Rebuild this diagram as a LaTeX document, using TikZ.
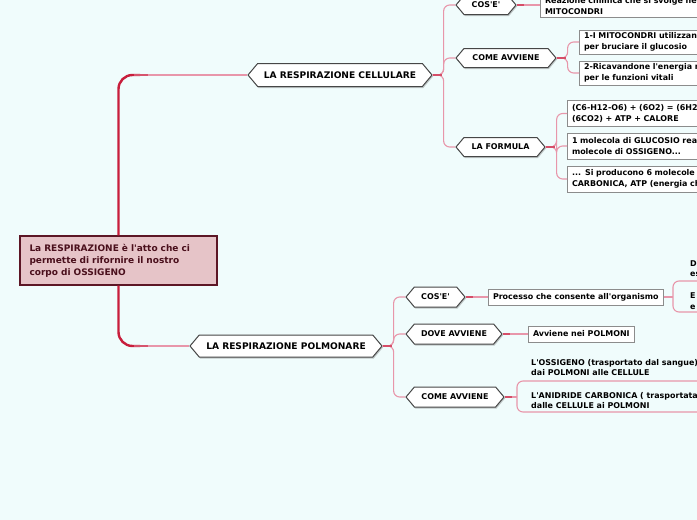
\documentclass[tikz,border=0pt]{standalone}
\usepackage{fontspec}
\setmainfont{DejaVu Sans}
\usetikzlibrary{shapes.symbols,shadows,calc}
\newcommand{\ap}{\textquotesingle}
\definecolor{bg}{RGB}{240,252,252}
\definecolor{rootfill}{RGB}{230,196,200}
\definecolor{rootdraw}{RGB}{92,22,37}
\definecolor{roottext}{RGB}{74,15,28}
\definecolor{crimson}{RGB}{200,30,60}
\definecolor{lpink}{RGB}{232,150,170}
\definecolor{hexdraw}{RGB}{70,70,70}
\definecolor{boxdraw}{RGB}{140,140,140}
\tikzset{
  hexnode/.style={signal, signal to=west and east, signal pointer angle=100,
    draw=hexdraw, line width=1pt, fill=white, inner sep=0pt,
    drop shadow={shadow xshift=1pt, shadow yshift=-1.5pt, opacity=0.35, fill=black!60}},
  boxnode/.style={rectangle, draw=boxdraw, line width=1pt, fill=white,
    inner xsep=4.5pt, inner ysep=2.5pt, align=left,
    drop shadow={shadow xshift=0.8pt, shadow yshift=-0.8pt, opacity=0.25, fill=black!50}},
  plainnode/.style={rectangle, inner xsep=0pt, inner ysep=0pt, align=left},
  subline/.style={draw=lpink, line width=1.1pt, rounded corners=6pt},
  stub/.style={draw=crimson!60!lpink, line width=1.3pt},
  mainline/.style={draw=crimson, line width=2.4pt, rounded corners=14pt},
  mainpink/.style={draw=lpink, line width=1.8pt},
  bigfont/.style={font=\bfseries\fontsize{9.1}{12}\selectfont},
}
\begin{document}
\begin{tikzpicture}[x=1pt,y=-1pt, font=\bfseries\fontsize{7.95}{10.8}\selectfont]
\useasboundingbox (0,0) rectangle (697,520);
\clip (0,0) rectangle (697,520);
\fill[bg] (0,0) rectangle (697,520);

% root
\node[rectangle, draw=rootdraw, line width=1.2pt, fill=rootfill, text=roottext,
  minimum width=197pt, minimum height=49pt, text width=178pt, align=left,
  font=\bfseries\fontsize{9}{12}\selectfont] (root) at (118.5,260.5)
  {La RESPIRAZIONE è l\ap atto che ci\\permette di rifornire il nostro\\corpo di OSSIGENO};

% main hexagons
\node[hexnode, bigfont, minimum width=184pt, minimum height=23pt] (cell) at (340,75) {LA RESPIRAZIONE CELLULARE};
\node[hexnode, bigfont, minimum width=192pt, minimum height=22pt] (polm) at (286,346) {LA RESPIRAZIONE POLMONARE};

% second level hexagons
\node[hexnode, minimum width=60pt, minimum height=19pt] (cose1) at (486,5) {COS\ap E\ap};
\node[hexnode, minimum width=100pt, minimum height=19pt] (come1) at (506,58) {COME AVVIENE};
\node[hexnode, minimum width=89pt, minimum height=19pt] (form) at (500.5,147) {LA FORMULA};
\node[hexnode, minimum width=59pt, minimum height=20pt] (cose2) at (435.5,297) {COS\ap E\ap};
\node[hexnode, minimum width=96pt, minimum height=20pt] (dove) at (454,334) {DOVE AVVIENE};
\node[hexnode, minimum width=98pt, minimum height=20pt] (come2) at (455,397) {COME AVVIENE};

% boxes
\node[boxnode, anchor=south west, text width=200pt] (r1) at (540,17.5) {Reazione chimica che si svolge nei\\MITOCONDRI};
\node[boxnode, anchor=west, text width=200pt, minimum height=24pt] (m1) at (579,42) {1-I MITOCONDRI utilizzano\\per bruciare il glucosio};
\node[boxnode, anchor=west, text width=200pt, minimum height=24pt] (m2) at (579,73) {2-Ricavandone l\ap energia necessaria\\per le funzioni vitali};
\node[boxnode, anchor=west, text width=200pt, minimum height=26pt] (f1) at (567,113.5) {(C6-H12-O6) + (6O2) = (6H2O) +\\(6CO2) + ATP + CALORE};
\node[boxnode, anchor=west, text width=200pt, minimum height=26pt] (f2) at (567,146) {1 molecola di GLUCOSIO reagisce\\molecole di OSSIGENO...};
\node[boxnode, anchor=west, text width=200pt, minimum height=26pt] (f3) at (567,179) {... Si producono 6 molecole di\\CARBONICA, ATP (energia chimica)};
\node[boxnode, anchor=west, minimum height=16pt] (proc) at (488,297) {Processo che consente all\ap organismo};
\node[boxnode, anchor=west, minimum height=16pt] (avv) at (528,334) {Avviene nei POLMONI};

% plain texts
\node[plainnode, anchor=west] (di) at (690,268.5) {Di\\es};
\node[plainnode, anchor=west] (ee) at (690,301.5) {E\\e};
\node[plainnode, anchor=west] (oss) at (531,367.5) {L\ap OSSIGENO (trasportato dal sangue)\\dai POLMONI alle CELLULE};
\node[plainnode, anchor=west] (anid) at (531,400.5) {L\ap ANIDRIDE CARBONICA ( trasportata\\dalle CELLULE ai POLMONI};

% main connectors
\draw[mainpink] (135,75) -- (cell.west);
\draw[mainpink] (135,346) -- (polm.west);
\draw[mainline] (root.north) |- (140,75);
\draw[mainline] (root.south) |- (140,346);
\draw[draw=crimson!55!lpink, line width=2pt] (134,75) -- (148,75);
\draw[draw=crimson!55!lpink, line width=2pt] (134,346) -- (148,346);

% cellular sub-connectors
\foreach \t in {cose1,come1,form}
  \draw[subline] (cell.east) -- ++(11,0) |- (\t.west);
\draw[stub] (cell.east) -- ++(9,0);
\draw[subline] (cose1.east) -- (r1.west |- cose1.east);
\draw[stub] (cose1.east) -- ++(7,0);
\foreach \t in {m1,m2}
  \draw[subline] (come1.east) -- ++(11,0) |- (\t.west);
\draw[stub] (come1.east) -- ++(9,0);
\foreach \t in {f1,f2,f3}
  \draw[subline] (form.east) -- ++(11,0) |- (\t.west);
\draw[stub] (form.east) -- ++(9,0);

% polmonare sub-connectors
\foreach \t in {cose2,dove,come2}
  \draw[subline] (polm.east) -- ++(11,0) |- (\t.west);
\draw[stub] (polm.east) -- ++(9,0);
\draw[subline] (cose2.east) -- (proc.west);
\draw[stub] (cose2.east) -- ++(7,0);
\draw[subline] (dove.east) -- (avv.west);
\draw[stub] (dove.east) -- ++(7,0);

% bracket for E / e
\coordinate (ej) at (673,297);
\draw[subline] (proc.east) -- (ej);
\draw[subline] (700,281) -- (673,281) -- (673,312) -- (700,312);
% bracket for anidride
\coordinate (aj) at (517,397);
\draw[subline] (come2.east) -- (aj);
\draw[stub] (come2.east) -- ++(7,0);
\draw[subline] (700,381) -- (517,381) -- (517,412) -- (700,412);
\end{tikzpicture}
\end{document}
